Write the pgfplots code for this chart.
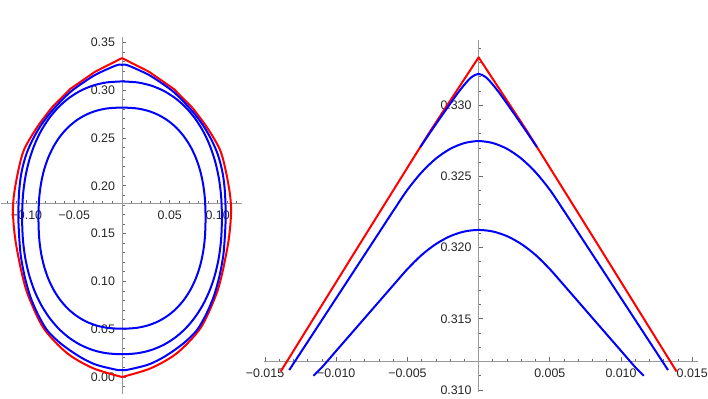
\documentclass[border=0pt]{standalone}
\usepackage{fontspec}
\setmainfont{Liberation Sans}
\usepackage{pgfplots}
\pgfplotsset{compat=1.18}
\definecolor{mred}{RGB}{255,0,0}
\definecolor{mblue}{RGB}{0,0,255}
\pgfplotsset{mma/.style={
  anchor=south west, clip=false, scaled ticks=false,
  axis x line*=bottom, axis y line*=left,
  axis line style={gray!80, line width=0.5pt},
  tick align=inside, major tick length=2.2pt, minor tick length=1.3pt,
  tick style={gray!70!black!90, line width=0.4pt},
  tick label style={font=\fontsize{6.2}{7}\selectfont, text=black!85},
  every axis plot/.append style={line width=1pt, line join=round},
}}
\begin{document}
\begin{tikzpicture}
\useasboundingbox (0,0) rectangle (354pt,199pt);
% left: full curves
\begin{axis}[mma, at={(0.3pt,2.04pt)}, x=478pt, y=478pt,
  xmin=-0.127, xmax=0.126, ymin=-0.0177, ymax=0.3555,
  axis x line shift=-95pt, axis y line shift=-60.7pt,
  xtick={-0.1,-0.05,0.05,0.1}, xticklabels={−0.10,−0.05,0.05,0.10},
  minor xtick={-0.12,-0.11,...,0.12},
  ytick={0,0.05,0.1,0.15,0.2,0.25,0.3,0.35},
  yticklabels={0.00,0.05,0.10,0.15,0.20,0.25,0.30,0.35},
  minor ytick={-0.01,0,...,0.35}]
\addplot[mred] coordinates {
 (0,0.3336) (-0.0282,0.3193) (-0.0543,0.3012) (-0.0734,0.2819)};
\addplot[mred, smooth] coordinates {
 (-0.0734,0.2819) (-0.0890,0.2610) (-0.1023,0.2382) (-0.1082,0.2172) (-0.1127,0.1928)
 (-0.1141,0.1760) (-0.1134,0.1600) (-0.1115,0.1430) (-0.1085,0.1262) (-0.1040,0.1050)
 (-0.0978,0.0843) (-0.0820,0.0510) (-0.0574,0.0249) (-0.0300,0.0091) (0,0)};
\addplot[mred] coordinates {
 (0,0.3336) (0.0282,0.3193) (0.0543,0.3012) (0.0734,0.2819)};
\addplot[mred, smooth] coordinates {
 (0.0734,0.2819) (0.0890,0.2610) (0.1023,0.2382) (0.1082,0.2172) (0.1127,0.1928)
 (0.1141,0.1760) (0.1134,0.1600) (0.1115,0.1430) (0.1085,0.1262) (0.1040,0.1050)
 (0.0978,0.0843) (0.0820,0.0510) (0.0574,0.0249) (0.0300,0.0091) (0,0)};
\addplot[mblue, smooth] coordinates {
 (0,0.3265) (-0.006,0.3260) (-0.0264,0.3169) (-0.0395,0.3087) (-0.0525,0.2994)
 (-0.0623,0.2902) (-0.0717,0.2802) (-0.0800,0.2700) (-0.0874,0.2592) (-0.0940,0.2472)
 (-0.0995,0.2347) (-0.1032,0.2225) (-0.1058,0.2102) (-0.1076,0.1945) (-0.1083,0.1787)
 (-0.1085,0.1700) (-0.1083,0.1613) (-0.1074,0.1440) (-0.1058,0.1262) (-0.1018,0.1050)
 (-0.0960,0.0843) (-0.0882,0.0660) (-0.0786,0.0493) (-0.0662,0.0368) (-0.0525,0.0265)
 (-0.0395,0.0185) (-0.0264,0.0126) (-0.006,0.0076) (0,0.0073)
 (0.006,0.0076) (0.0264,0.0126) (0.0395,0.0185) (0.0525,0.0265) (0.0662,0.0368)
 (0.0786,0.0493) (0.0882,0.0660) (0.0960,0.0843) (0.1018,0.1050) (0.1058,0.1262)
 (0.1074,0.1440) (0.1083,0.1613) (0.1085,0.1700) (0.1083,0.1787) (0.1076,0.1945)
 (0.1058,0.2102) (0.1032,0.2225) (0.0995,0.2347) (0.0940,0.2472) (0.0874,0.2592)
 (0.0800,0.2700) (0.0717,0.2802) (0.0623,0.2902) (0.0525,0.2994) (0.0395,0.3087)
 (0.0264,0.3169) (0.006,0.3260) (0,0.3265)};
\addplot[mblue, smooth] coordinates {
 (0,0.3092) (-0.01641,0.30809) (-0.03058,0.30478) (-0.04364,0.2993) (-0.05566,0.29172)
 (-0.06656,0.28213) (-0.07625,0.27063) (-0.08468,0.25739) (-0.09170,0.2425)
 (-0.09725,0.22609) (-0.10126,0.20825) (-0.10368,0.1889) (-0.1045,0.1665)
 (-0.10368,0.1441) (-0.10126,0.12475) (-0.09725,0.10691) (-0.09170,0.0905)
 (-0.08468,0.07561) (-0.07625,0.06237) (-0.06656,0.05087) (-0.05566,0.04128)
 (-0.04364,0.0337) (-0.03058,0.02822) (-0.01641,0.02491) (0,0.0238)
 (0.01641,0.02491) (0.03058,0.02822) (0.04364,0.0337) (0.05566,0.04128)
 (0.06656,0.05087) (0.07625,0.06237) (0.08468,0.07561) (0.09170,0.0905)
 (0.09725,0.10691) (0.10126,0.12475) (0.10368,0.1441) (0.1045,0.1665)
 (0.10368,0.1889) (0.10126,0.20825) (0.09725,0.22609) (0.09170,0.2425)
 (0.08468,0.25739) (0.07625,0.27063) (0.06656,0.28213) (0.05566,0.29172)
 (0.04364,0.2993) (0.03058,0.30478) (0.01641,0.30809) (0,0.3092)};
\addplot[mblue, smooth] coordinates {
 (0,0.2819) (-0.01488,0.28103) (-0.02698,0.27846) (-0.03791,0.27421) (-0.04783,0.26829)
 (-0.05677,0.26081) (-0.06466,0.25179) (-0.07147,0.24135) (-0.07712,0.22952)
 (-0.08159,0.21638) (-0.08480,0.20192) (-0.08674,0.18589) (-0.0874,0.1662)
 (-0.08674,0.14651) (-0.08480,0.13048) (-0.08159,0.11602) (-0.07712,0.10288)
 (-0.07147,0.09105) (-0.06466,0.08061) (-0.05677,0.07159) (-0.04783,0.06411)
 (-0.03791,0.05819) (-0.02698,0.05394) (-0.01488,0.05137) (0,0.0505)
 (0.01488,0.05137) (0.02698,0.05394) (0.03791,0.05819) (0.04783,0.06411)
 (0.05677,0.07159) (0.06466,0.08061) (0.07147,0.09105) (0.07712,0.10288)
 (0.08159,0.11602) (0.08480,0.13048) (0.08674,0.14651) (0.0874,0.1662)
 (0.08674,0.18589) (0.08480,0.20192) (0.08159,0.21638) (0.07712,0.22952)
 (0.07147,0.24135) (0.06466,0.25179) (0.05677,0.26081) (0.04783,0.26829)
 (0.03791,0.27421) (0.02698,0.27846) (0.01488,0.28103) (0,0.2819)};
\end{axis}
% right: zoom on the tip
\begin{axis}[mma, at={(131.8pt,3.15pt)}, x=7120pt, y=7120pt,
  xmin=-0.0151, xmax=0.0154, ymin=0.30988, ymax=0.33458,
  axis x line shift=-15.1pt, axis y line shift=-107.5pt,
  xtick={-0.015,-0.01,-0.005,0.005,0.01,0.015},
  xticklabels={−0.015,−0.010,−0.005,0.005,0.010,0.015},
  minor xtick={-0.015,-0.014,...,0.015},
  ytick={0.31,0.315,0.32,0.325,0.33},
  yticklabels={0.310,0.315,0.320,0.325,0.330},
  minor ytick={0.31,0.311,...,0.334}]
\addplot[mred] coordinates {
 (-0.0139,0.3113) (-0.0085,0.3200) (-0.0034,0.32818) (0,0.33336)
 (0.0034,0.32818) (0.0085,0.3200) (0.0139,0.3113)};
\addplot[mblue, smooth] coordinates {
 (-0.0041,0.32705) (-0.003,0.32867) (-0.002,0.33010) (-0.0015,0.33080)
 (-0.001,0.33144) (-0.0005,0.33197) (0,0.3322) (0.0005,0.33197) (0.001,0.33144)
 (0.0015,0.33080) (0.002,0.33010) (0.003,0.32867) (0.0041,0.32705)};
\addplot[mblue, smooth] coordinates {
 (-0.0133,0.31140) (-0.012,0.31339) (-0.011,0.31492) (-0.010,0.31645) (-0.009,0.31798)
 (-0.008,0.31951) (-0.007,0.32104) (-0.006,0.32257) (-0.005,0.32406) (-0.004,0.32529)
 (-0.003,0.32625) (-0.002,0.32693) (-0.001,0.32734) (0,0.32748)
 (0.001,0.32734) (0.002,0.32693) (0.003,0.32625) (0.004,0.32529) (0.005,0.32406)
 (0.006,0.32257) (0.007,0.32104) (0.008,0.31951) (0.009,0.31798) (0.010,0.31645)
 (0.011,0.31492) (0.012,0.31339) (0.0133,0.31140)};
\addplot[mblue, smooth] coordinates {
 (-0.0116,0.31100) (-0.011,0.31160) (-0.010,0.31275) (-0.009,0.31390) (-0.008,0.31505)
 (-0.007,0.31620) (-0.006,0.31735) (-0.005,0.31849) (-0.004,0.31948) (-0.003,0.32025)
 (-0.002,0.32080) (-0.001,0.32113) (0,0.32124)
 (0.001,0.32113) (0.002,0.32080) (0.003,0.32025) (0.004,0.31948) (0.005,0.31849)
 (0.006,0.31735) (0.007,0.31620) (0.008,0.31505) (0.009,0.31390) (0.010,0.31275)
 (0.011,0.31160) (0.0116,0.31100)};
\end{axis}
\end{tikzpicture}
\end{document}
